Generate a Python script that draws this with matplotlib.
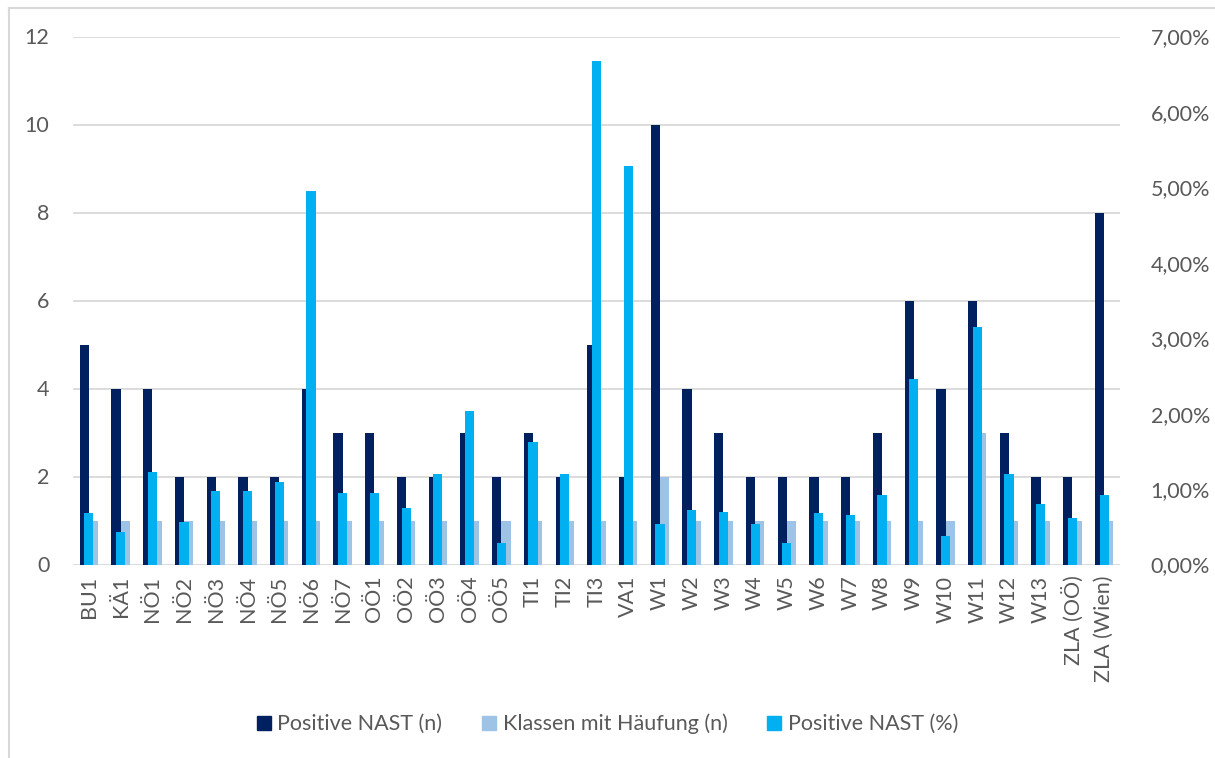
import matplotlib
matplotlib.use("Agg")
import matplotlib.pyplot as plt
from matplotlib.ticker import FuncFormatter, FixedLocator
from matplotlib.lines import Line2D
from matplotlib.patches import Patch
import numpy as np

categories = ["BU1", "KÄ1", "NÖ1", "NÖ2", "NÖ3", "NÖ4", "NÖ5", "NÖ6", "NÖ7",
              "OÖ1", "OÖ2", "OÖ3", "OÖ4", "OÖ5", "TI1", "TI2", "TI3", "VA1",
              "W1", "W2", "W3", "W4", "W5", "W6", "W7", "W8", "W9", "W10",
              "W11", "W12", "W13", "ZLA (OÖ)", "ZLA (Wien)"]
positive_n = [5, 4, 4, 2, 2, 2, 2, 4, 3, 3, 2, 2, 3, 2, 3, 2, 5, 2,
              10, 4, 3, 2, 2, 2, 2, 3, 6, 4, 6, 3, 2, 2, 8]
klassen_n = [1, 1, 1, 1, 1, 1, 1, 1, 1, 1, 1, 1, 1, 1, 1, 1, 1, 1,
             2, 1, 1, 1, 1, 1, 1, 1, 1, 1, 3, 1, 1, 1, 1]
positive_pct = [0.68, 0.43, 1.23, 0.56, 0.98, 0.98, 1.09, 4.95, 0.95,
                0.95, 0.75, 1.20, 2.03, 0.29, 1.62, 1.20, 6.68, 5.28,
                0.54, 0.72, 0.70, 0.54, 0.28, 0.68, 0.66, 0.92, 2.46,
                0.38, 3.15, 1.20, 0.80, 0.61, 0.92]
left_ticks = [0, 2, 4, 6, 8, 10, 12]
right_ticks = [0, 1, 2, 3, 4, 5, 6, 7]

C_DARK = "#002060"
C_LIGHT = "#9DC3E6"
C_CYAN = "#00B0F0"
TXT = "#595959"
GRID = "#D9D9D9"
FONT = ["Lato", "DejaVu Sans"]
plt.rcParams["font.family"] = FONT
FS = 15.5

fig = plt.figure(figsize=(12.15, 7.58), dpi=100)
ax = fig.add_axes([73/1215, 1-564.5/758, (1120-73)/1215, (564.5-36.5)/758])
ax2 = ax.twinx()

x = np.arange(len(categories))
w = 0.29
ax.bar(x - w/2, positive_n, width=w, color=C_DARK, zorder=3)
ax.bar(x + w/2, klassen_n, width=w, color=C_LIGHT, zorder=3)
ax2.bar(x, positive_pct, width=w, color=C_CYAN, zorder=3)

ax.set_xlim(-0.5, len(categories) - 0.5)
ax.set_ylim(0, 12)
ax2.set_ylim(0, 7)
ax.yaxis.set_major_locator(FixedLocator(left_ticks))
ax2.yaxis.set_major_locator(FixedLocator(right_ticks))
ax2.yaxis.set_major_formatter(FuncFormatter(lambda v, p: f"{v:.2f}".replace(".", ",") + "%"))

ax.grid(axis="y", color=GRID, linewidth=1.3, zorder=0)
ax.set_axisbelow(True)
for a in (ax, ax2):
    for s in a.spines.values():
        s.set_visible(False)

ax.set_xticks(x)
ax.set_xticklabels(categories, rotation=90, fontsize=FS, color=TXT)
ax.tick_params(axis="x", length=0, pad=8)
ax.tick_params(axis="y", length=0, labelsize=FS, labelcolor=TXT, pad=17)
ax2.tick_params(axis="y", length=0, labelsize=FS, labelcolor=TXT, pad=22)

handles = [Patch(color=C_DARK), Patch(color=C_LIGHT), Patch(color=C_CYAN)]
labels = ["Positive NAST (n)", "Klassen mit Häufung (n)", "Positive NAST (%)"]
fig.legend(handles, labels, loc="center", bbox_to_anchor=(0.5, 1-724/758),
           ncol=3, frameon=False, fontsize=FS, labelcolor=TXT,
           handlelength=0.65, handleheight=0.65, handletextpad=0.3, columnspacing=1.85)

fig.add_artist(Line2D([9/1215, 9/1215], [0, 1-8/758], transform=fig.transFigure,
                      color=GRID, linewidth=1.5))
fig.add_artist(Line2D([9/1215, 1], [1-8/758, 1-8/758], transform=fig.transFigure,
                      color=GRID, linewidth=1.5))

fig.savefig("out.png", dpi=100, facecolor="white")
